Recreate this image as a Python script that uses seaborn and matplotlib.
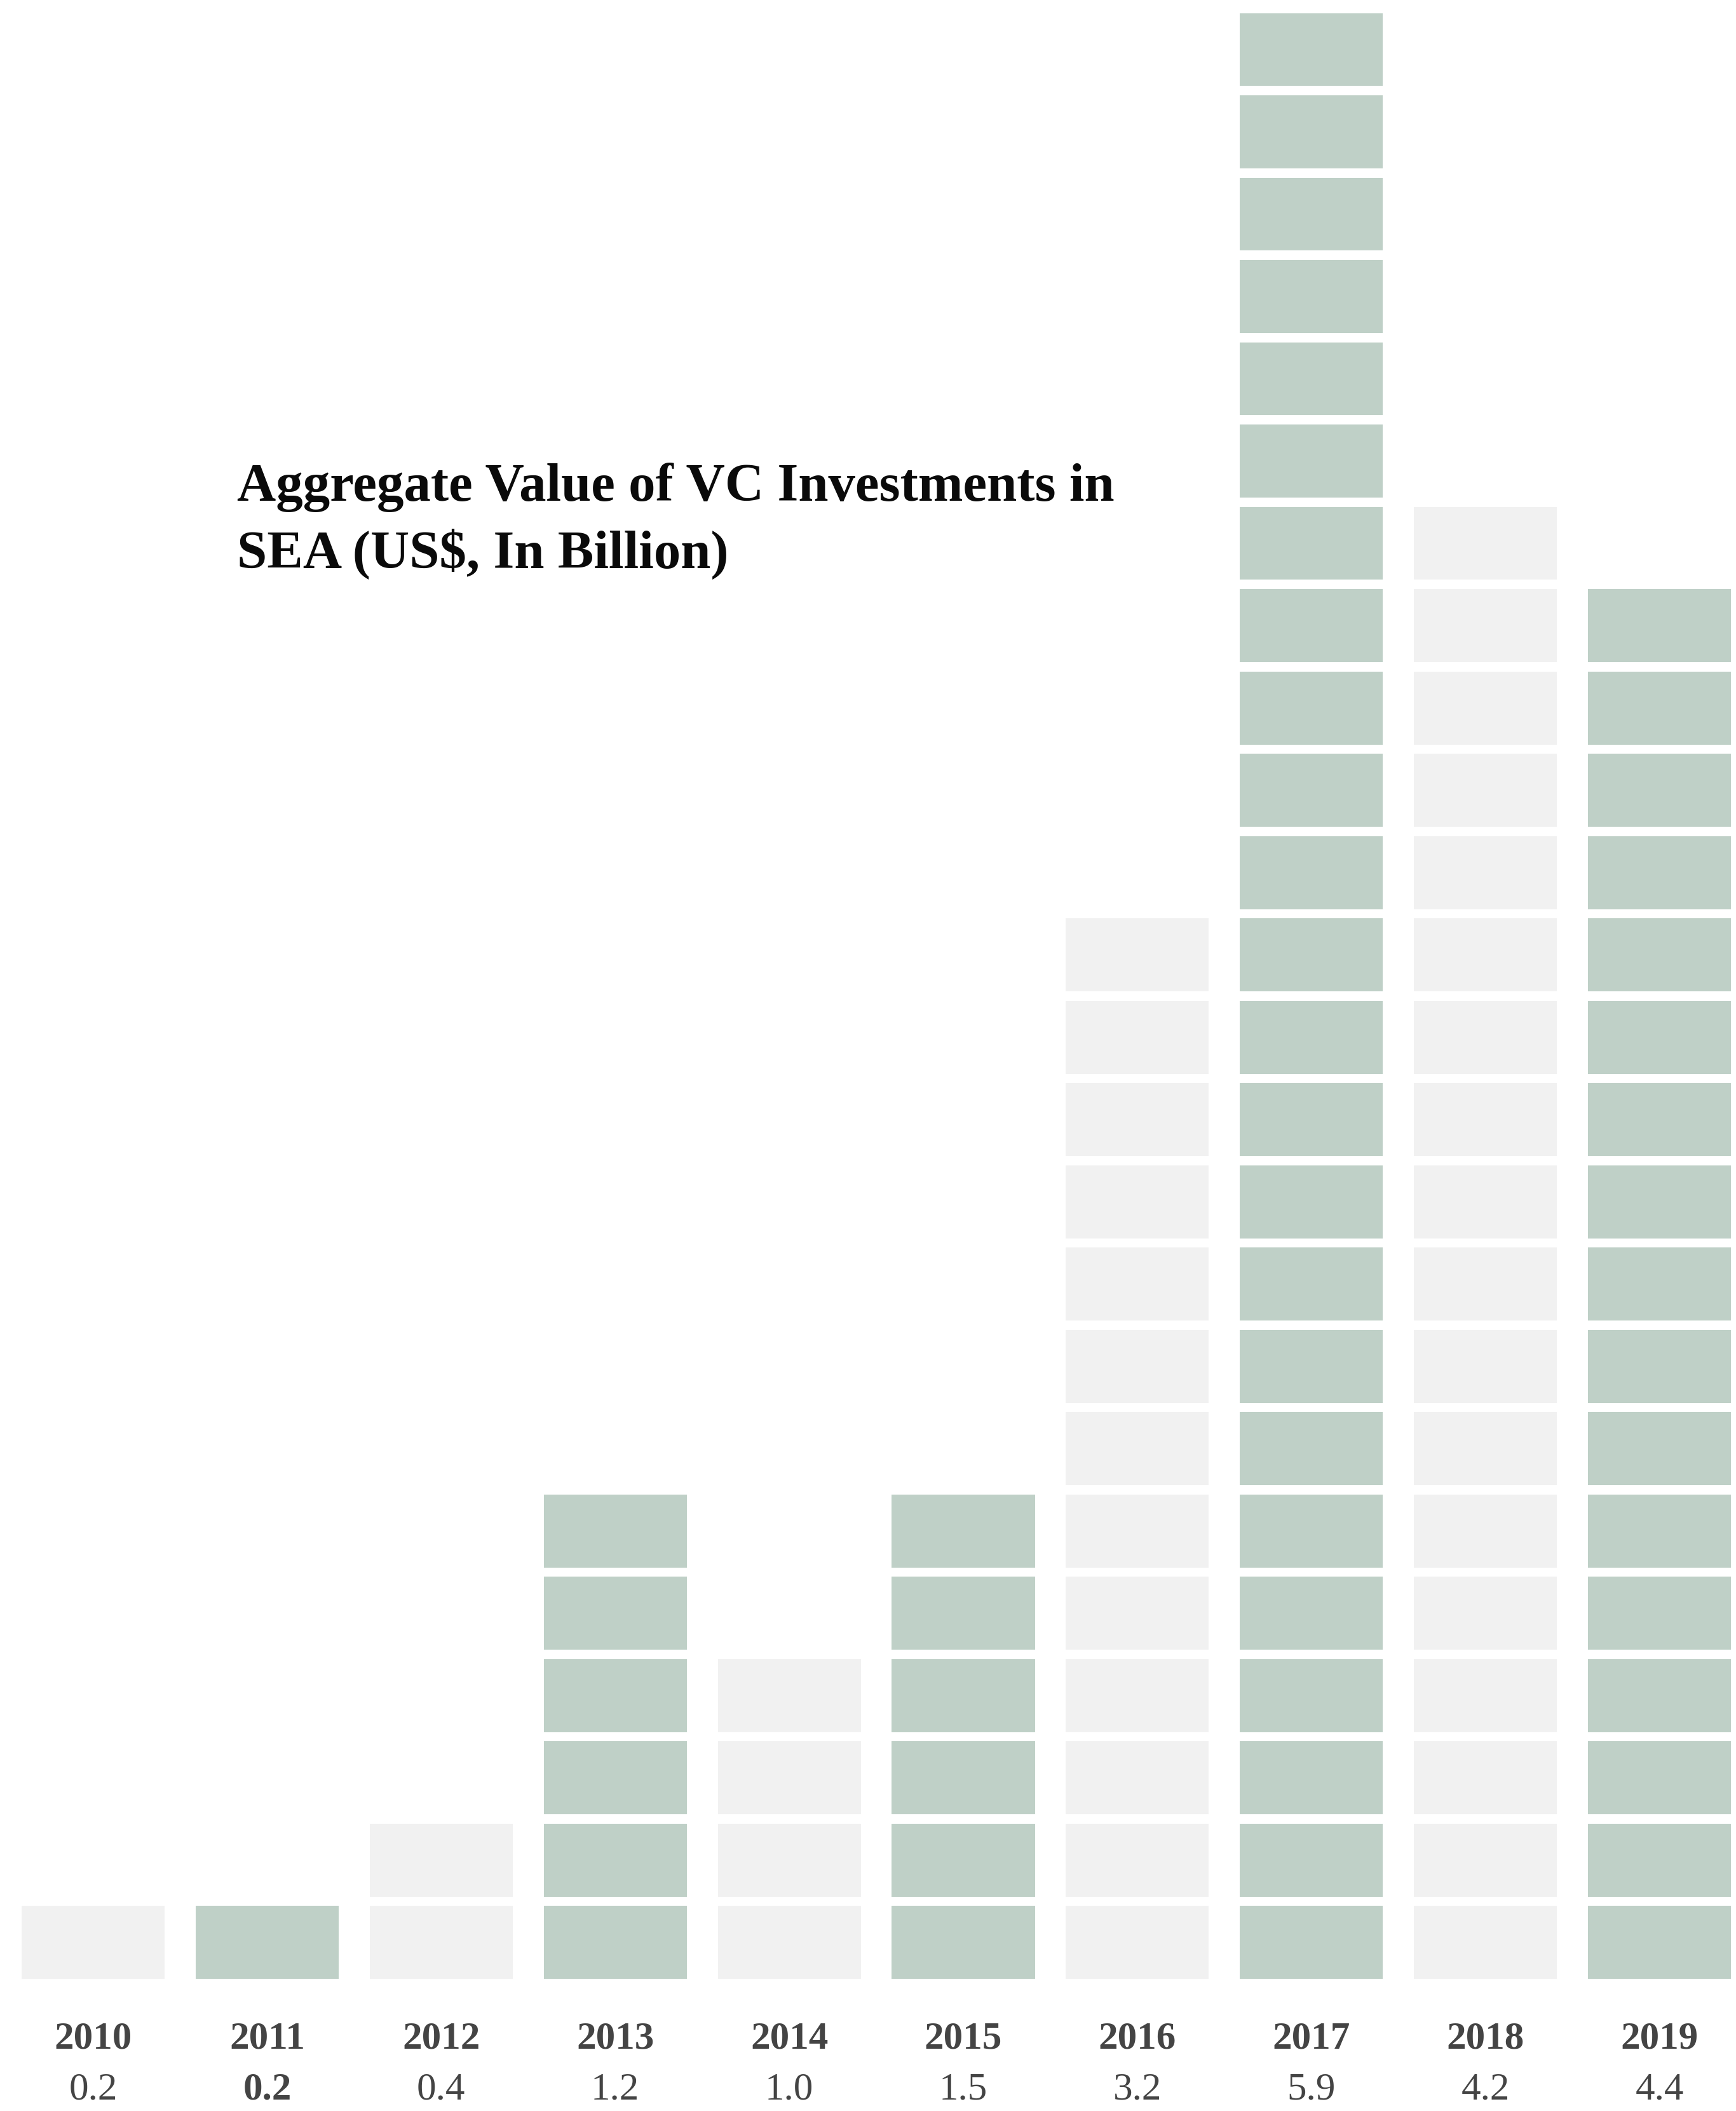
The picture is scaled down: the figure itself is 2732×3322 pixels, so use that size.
import matplotlib
matplotlib.use("Agg")
import matplotlib.pyplot as plt
import seaborn as sns
import pandas as pd

# Aggregate VC investment value in Southeast Asia, US$ billion
years = ["2010", "2011", "2012", "2013", "2014", "2015", "2016", "2017", "2018", "2019"]
values = [0.2, 0.2, 0.4, 1.2, 1.0, 1.5, 3.2, 5.9, 4.2, 4.4]
value_labels = ["0.2", "0.2", "0.4", "1.2", "1.0", "1.5", "3.2", "5.9", "4.2", "4.4"]
# number of stacked tiles drawn per year
blocks = [1, 1, 2, 6, 4, 6, 13, 24, 18, 17]
highlight_year = "2011"

title = "Aggregate Value of VC Investments in\nSEA (US$, In Billion)"

GREEN = "#bfd0c7"
GREY = "#f1f1f1"
TEXT = "#444444"

sns.set_theme(style="white")
plt.rcParams["font.family"] = ["Liberation Serif", "DejaVu Serif"]

W, H, DPI = 2732, 3323, 100
fig = plt.figure(figsize=(W / DPI, H / DPI), dpi=DPI, facecolor="white")

# tile pitch 129.5 px, tile height ~115 px, baseline 208 px above bottom edge
pitch_px = 129.5
gap = 14.5 / pitch_px
base_px = 208
ax = fig.add_axes([0, base_px / H, 1, (H - base_px) / H])

palette = {y: (GREY if i % 2 == 0 else GREEN) for i, y in enumerate(years)}
df = pd.DataFrame({"year": years, "tiles": [b - gap for b in blocks], "value": values})

sns.barplot(data=df, x="year", y="tiles", hue="year", palette=palette,
            order=years, hue_order=years, legend=False, saturation=1,
            width=0.8215, linewidth=0, ax=ax)

# white separators cut each column into tiles
for k in range(1, max(blocks)):
    ax.axhspan(k - gap, k, color="white", lw=0, zorder=3)

ax.set_xlim(-0.5349, 9.4396)
ax.set_ylim(0, (H - base_px) / pitch_px)
ax.axis("off")

for i, (yr, lab) in enumerate(zip(years, value_labels)):
    ax.text(i, -0.72, yr, ha="center", va="center", fontsize=44,
            fontweight="bold", color=TEXT, clip_on=False)
    ax.text(i, -1.34, lab, ha="center", va="center", fontsize=44,
            fontweight="bold" if yr == highlight_year else "normal",
            color=TEXT, clip_on=False)

fig.text(373 / W, 1 - 728 / H, title, ha="left", va="top", fontsize=61,
         fontweight="bold", color="#0a0a0a", linespacing=1.42, zorder=10)

fig.savefig("out.png", dpi=DPI, facecolor="white")
